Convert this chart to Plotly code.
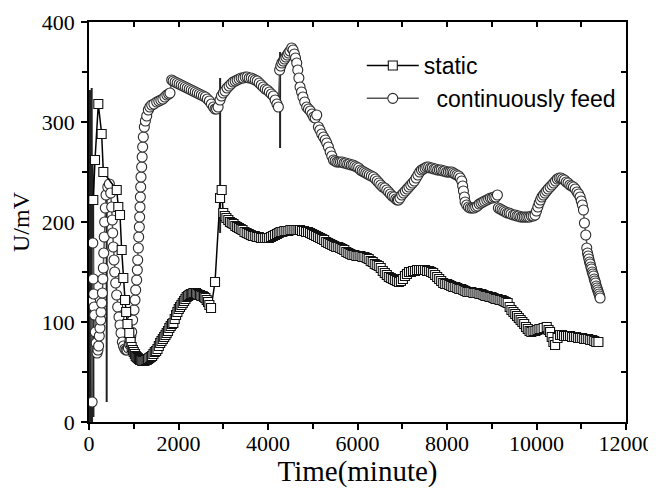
import plotly.graph_objects as go

# ---- continuously feed (circles) ----
cont_time = [40, 70, 85, 95, 105, 115, 125, 140, 160, 180,
             200, 215, 230, 245, 260, 270, 285, 300, 310, 320,
             330, 340, 350, 365, 380, 420, 455, 485, 507, 521,
             529, 544, 559, 574, 596, 618, 641, 670, 693, 715,
             745, 770, 800, 827, 850, 879, 900, 916, 935, 954,
             975, 1006, 1028, 1043, 1065, 1080, 1088, 1102, 1110, 1125,
             1132, 1140, 1148, 1155, 1162, 1177, 1188, 1199, 1214, 1236,
             1260, 1290, 1326, 1360, 1401, 1450, 1513,
             1560, 1605, 1650, 1695, 1740, 1780, 1810, 1848, 1880,
             1925, 1970, 2015, 2060, 2105, 2150, 2195, 2240, 2285, 2330,
             2375, 2420, 2465, 2510, 2555, 2600, 2645, 2690, 2735, 2780,
             2816, 2850, 2885, 2928, 2960, 3000, 3040, 3085, 3130, 3175,
             3220, 3265, 3310, 3355, 3400, 3445, 3490, 3535, 3580, 3625,
             3670, 3715, 3760, 3805, 3850, 3895, 3940, 3985, 4030, 4075,
             4120, 4160, 4200, 4232, 4260, 4285, 4310, 4340, 4370, 4400,
             4430, 4460, 4490, 4530, 4560, 4590, 4615, 4642, 4665, 4690,
             4716, 4750, 4780, 4820, 4865, 4905, 4945, 4985, 5020, 5055,
             5089, 5126, 5160, 5200, 5240, 5280, 5313, 5350, 5390, 5425,
             5462, 5500, 5540, 5580, 5620, 5660, 5700, 5740, 5780, 5820,
             5860, 5900, 5940, 5984, 6025, 6065, 6105, 6145, 6185, 6225,
             6265, 6310, 6356, 6400, 6440, 6480, 6520, 6565, 6610, 6654,
             6695, 6735, 6775, 6815, 6855, 6890, 6915, 6950, 6990, 7030,
             7070, 7110, 7150, 7190, 7230, 7270, 7310, 7350, 7390, 7430,
             7470, 7510, 7548, 7590, 7630, 7670, 7710, 7750, 7790, 7830,
             7870, 7910, 7950, 7990, 8030, 8070, 8110, 8143, 8180, 8220,
             8260, 8295, 8330, 8350, 8367, 8390, 8404, 8440, 8480, 8520,
             8560, 8600, 8640, 8680, 8720, 8760, 8800, 8840, 8888, 8930,
             8970, 9010, 9050, 9090, 9126, 9148, 9190, 9230, 9270, 9310,
             9350, 9390, 9430, 9484, 9525, 9565, 9605, 9645, 9685, 9725,
             9765, 9805, 9845, 9885, 9925, 9968, 10000, 10030, 10060, 10090,
             10120, 10155, 10190, 10225, 10260, 10303, 10345, 10385, 10425, 10465,
             10505, 10545, 10585, 10625, 10665, 10705, 10745, 10785, 10825, 10865,
             10905, 10940, 10974, 11000, 11025, 11049, 11071, 11101, 11123, 11140,
             11155, 11170, 11185, 11200, 11215, 11230, 11245, 11260, 11275, 11290,
             11305, 11320, 11335, 11350, 11365, 11380, 11395, 11410, 11421]
cont_mv = [120, 20, 179, 143, 128, 115, 107, 90, 79, 69,
           72, 76, 86, 94, 102, 110, 119, 129, 143, 154,
           169, 185, 200, 214, 227, 235, 238, 229, 215, 202,
           189, 175, 162, 150, 139, 127, 115, 105, 97, 89,
           80, 76, 73, 72, 72, 74, 78, 82, 86, 90,
           102, 112, 122, 132, 142, 152, 162, 174, 185, 195,
           205, 215, 225, 235, 245, 255, 265, 275, 285, 295,
           301, 306, 312, 315, 317, 318, 320,
           321, 322, 323, 325, 327, 328, 329, 342, 341,
           340, 339, 338, 337, 336, 335, 334, 333, 332, 331,
           330, 329, 328, 327, 326, 325, 323, 321, 318, 315,
           313, 313, 315, 322, 326, 329, 331, 334, 336, 338,
           340, 341, 342, 343, 344, 344, 345, 345, 344, 344,
           343, 342, 341, 339, 337, 335, 333, 332, 330, 328,
           326, 322, 318, 315, 352, 356, 359, 361, 363, 365,
           367, 369, 371, 374, 372, 368, 364, 359, 352, 344,
           335, 330, 325, 320, 315, 313, 311, 308, 305, 304,
           307, 295, 292, 288, 285, 282, 279, 275, 270, 266,
           262, 261, 260, 260, 260, 260, 259, 259, 258, 258,
           257, 257, 256, 255, 254, 252, 251, 250, 249, 248,
           247, 246, 245, 243, 241, 239, 237, 235, 234, 232,
           230, 228, 226, 225, 223, 222, 222, 224, 227, 229,
           231, 233, 235, 237, 239, 241, 244, 247, 250, 252,
           253, 254, 255, 255, 254, 254, 253, 253, 252, 252,
           252, 251, 251, 250, 250, 250, 250, 249, 248, 247,
           246, 244, 241, 236, 231, 225, 220, 217, 215, 214,
           214, 214, 215, 216, 218, 219, 220, 221, 222, 223,
           224, 224, 225, 225, 227, 214, 213, 212, 211, 210,
           209, 209, 208, 207, 207, 206, 206, 205, 205, 205,
           205, 205, 205, 206, 206, 207, 211, 215, 219, 222,
           225, 227, 229, 231, 233, 235, 237, 239, 241, 243,
           244, 244, 243, 242, 240, 239, 237, 236, 235, 233,
           230, 228, 225, 221, 217, 212, 199, 187, 174, 169,
           166, 163, 160, 158, 155, 153, 150, 148, 146, 143,
           141, 139, 136, 134, 132, 130, 128, 126, 124]

# ---- static (squares) ----
static_time = [96, 134, 208, 283, 320, 620, 655, 693, 730, 767,
               805, 830, 860, 900, 930, 954, 980, 1000, 1025, 1045,
               1066, 1090,
               1115, 1140, 1165, 1190, 1215, 1240, 1265, 1290, 1320, 1350,
               1380, 1410, 1440, 1470, 1500, 1530, 1560, 1590, 1620, 1650,
               1680, 1710, 1736, 1765, 1795, 1825, 1855, 1885, 1915, 1945,
               1975, 2005, 2034, 2065, 2095, 2125, 2155, 2183, 2215, 2245,
               2275, 2305, 2331, 2360, 2390, 2420, 2450, 2480, 2510, 2540,
               2570, 2600, 2630, 2660, 2690, 2727, 2816, 2928, 2965, 3000,
               3035, 3070, 3113, 3150, 3190, 3230, 3270, 3310, 3350, 3390,
               3430, 3475, 3524, 3570, 3615, 3660, 3705, 3748, 3795, 3840,
               3885, 3930, 3975, 4020, 4065, 4110, 4155, 4200, 4240, 4280,
               4320, 4365, 4410, 4455, 4500, 4545, 4590, 4635, 4680, 4716,
               4760, 4805, 4850, 4895, 4940, 4985, 5030, 5075, 5120, 5165,
               5210, 5255, 5300, 5345, 5390, 5435, 5480, 5525, 5570, 5615,
               5660, 5705, 5750, 5795, 5840, 5885, 5930, 5975, 6020, 6065,
               6110, 6155, 6206, 6250, 6295, 6340, 6385, 6430, 6475, 6520,
               6565, 6610, 6655, 6700, 6745, 6790, 6835, 6880, 6925, 6970,
               7015, 7060, 7105, 7150, 7195, 7240, 7285, 7330, 7375, 7420,
               7465, 7510, 7555, 7600, 7645, 7690, 7735, 7780, 7825, 7870,
               7915, 7960, 8005, 8050, 8095, 8140, 8185, 8230, 8275, 8320,
               8365, 8410, 8455, 8500, 8545, 8590, 8635, 8680, 8725, 8770,
               8815, 8860, 8905, 8950, 8995, 9040, 9085, 9130, 9175, 9220,
               9265, 9310, 9355, 9400, 9440, 9484, 9525, 9565, 9605, 9645,
               9685, 9725, 9765, 9805, 9845, 9885, 9930, 9975, 10020, 10065,
               10110, 10160, 10229, 10270, 10303, 10340, 10378, 10415, 10470, 10527,
               10570, 10615, 10660, 10705, 10750, 10795, 10840, 10885, 10930, 10975,
               11020, 11065, 11110, 11155, 11200, 11245, 11290, 11335, 11384]
static_mv = [222, 262, 318, 288, 250, 232, 215, 207, 172, 144,
             122, 110, 98, 89, 80, 75, 72, 70, 68, 66,
             65, 64,
             63, 62, 62, 61, 61, 61, 62, 62, 63, 64,
             65, 66, 68, 70, 71, 73, 76, 79, 81, 83,
             85, 87, 89, 91, 94, 96, 98, 99, 103, 107,
             110, 113, 115, 117, 119, 121, 123, 125, 126, 127,
             128, 128, 129, 129, 129, 128, 127, 127, 126, 126,
             125, 124, 122, 120, 117, 114, 140, 224, 232, 209,
             206, 204, 202, 200, 199, 198, 196, 195, 194, 193,
             192, 190, 189, 188, 187, 186, 186, 185, 185, 184,
             184, 184, 184, 184, 185, 186, 187, 188, 189, 190,
             190, 191, 191, 191, 192, 192, 192, 192, 192, 192,
             191, 191, 190, 190, 189, 188, 187, 186, 185, 184,
             183, 182, 180, 179, 178, 177, 176, 175, 175, 174,
             173, 172, 170, 169, 168, 167, 167, 166, 166, 166,
             165, 165, 164, 163, 161, 160, 158, 157, 156, 154,
             151, 149, 147, 145, 144, 143, 142, 141, 140, 141,
             143, 146, 148, 150, 150, 151, 151, 152, 152, 152,
             152, 152, 151, 151, 150, 149, 147, 145, 143, 141,
             139, 138, 138, 137, 136, 135, 135, 134, 133, 133,
             132, 131, 130, 130, 130, 129, 129, 129, 128, 128,
             127, 126, 126, 125, 125, 124, 123, 123, 122, 122,
             121, 120, 119, 115, 112, 110, 108, 106, 104, 102,
             100, 98, 95, 93, 91, 90, 91, 91, 92, 93,
             93, 94, 95, 92, 90, 85, 80, 77, 84, 87,
             87, 86, 86, 86, 86, 85, 85, 85, 84, 84,
             84, 83, 83, 83, 82, 82, 81, 80, 80]

# ---- short signal spikes (lines only) ----
spike_time = [5, 12, 20, 28, 36, 44, 52, 60, 68, 76, 84, 92, 100, None, 395, 395, None, 2930, 2930, None, 4270, 4270]
spike_mv = [0, 332, 2, 325, 0, 300, 8, 334, 0, 260, 0, 240, 5, None, 239, 20, None, 344, 189, None, 370, 274]

assert len(cont_time) == len(cont_mv), (len(cont_time), len(cont_mv))
assert len(static_time) == len(static_mv), (len(static_time), len(static_mv))

x_ticks = [0, 2000, 4000, 6000, 8000, 10000, 12000]
x_tick_text = ["0", "2000", "4000", "6000", "8000", "10000", "12000"]
y_ticks = [0, 100, 200, 300, 400]
y_tick_text = ["0", "100", "200", "300", "400"]

fig = go.Figure()
fig.add_trace(go.Scatter(x=spike_time, y=spike_mv, mode="lines", line=dict(color="#222222", width=2),
                         showlegend=False, hoverinfo="skip", connectgaps=False))
fig.add_trace(go.Scatter(x=cont_time, y=cont_mv, mode="lines+markers", name="\u00a0\u00a0continuously feed",
                         legendrank=2,
                         line=dict(color="#555555", width=1.5),
                         marker=dict(symbol="circle", size=10, color="white",
                                     line=dict(color="#2a2a2a", width=1.1))))
fig.add_trace(go.Scatter(x=static_time, y=static_mv, mode="lines+markers", name="static",
                         legendrank=1,
                         line=dict(color="#000000", width=1.5),
                         marker=dict(symbol="square", size=9, color="white",
                                     line=dict(color="#111111", width=1.1))))
fig.add_trace(go.Scatter(x=[None], y=[None], xaxis="x2", yaxis="y2", showlegend=False, hoverinfo="skip"))

serif = "Liberation Serif, Times New Roman, serif"
# page body adds an 8px offset, so the figure is 8px smaller and margins are shifted
fig.update_layout(
    width=648, height=480,
    margin=dict(l=81, r=30, t=14, b=66, autoexpand=False),
    paper_bgcolor="white", plot_bgcolor="white",
    showlegend=True,
    legend=dict(x=0.508, y=0.945, xanchor="left", yanchor="top", traceorder="normal",
                font=dict(family="Liberation Sans, Arial, sans-serif", size=23, color="black"),
                bgcolor="rgba(0,0,0,0)", itemwidth=52, tracegroupgap=0),
    xaxis=dict(range=[0, 12000], tickvals=x_ticks, ticktext=x_tick_text, ticks="outside", ticklen=6,
               tickwidth=1.5, automargin=False, ticklabelstandoff=-5,
               tickcolor="black", showline=True, linecolor="black", linewidth=1.5, showgrid=False,
               zeroline=False, tickfont=dict(family=serif, size=22, color="black"),
               minor=dict(dtick=1000, ticks="outside", ticklen=5, tickwidth=1.5, tickcolor="black"),
               title=dict(text="Time(minute)", font=dict(family=serif, size=29, color="black"), standoff=6)),
    yaxis=dict(range=[0, 400], tickvals=y_ticks, ticktext=y_tick_text, ticks="outside", ticklen=6,
               tickwidth=1.5, automargin=False, ticklabelstandoff=2,
               tickcolor="black", showline=True, linecolor="black", linewidth=1.5, showgrid=False,
               zeroline=False, tickfont=dict(family=serif, size=22, color="black"),
               minor=dict(dtick=50, ticks="outside", ticklen=5, tickwidth=1.5, tickcolor="black"),
               title=dict(text="U/mV", font=dict(family=serif, size=24, color="black"), standoff=7)),
    xaxis2=dict(range=[0, 12000], overlaying="x", side="top", anchor="y", dtick=1000, ticks="inside",
                ticklen=5, tickwidth=1.5, tickcolor="black", showticklabels=False, showline=True,
                linecolor="black", linewidth=1.5, showgrid=False, zeroline=False, automargin=False),
    yaxis2=dict(range=[0, 400], overlaying="y", side="right", anchor="x", dtick=50, ticks="inside",
                ticklen=5, tickwidth=1.5, tickcolor="black", showticklabels=False, showline=True,
                linecolor="black", linewidth=1.5, showgrid=False, zeroline=False, automargin=False),
)

fig.write_html("out.html")
